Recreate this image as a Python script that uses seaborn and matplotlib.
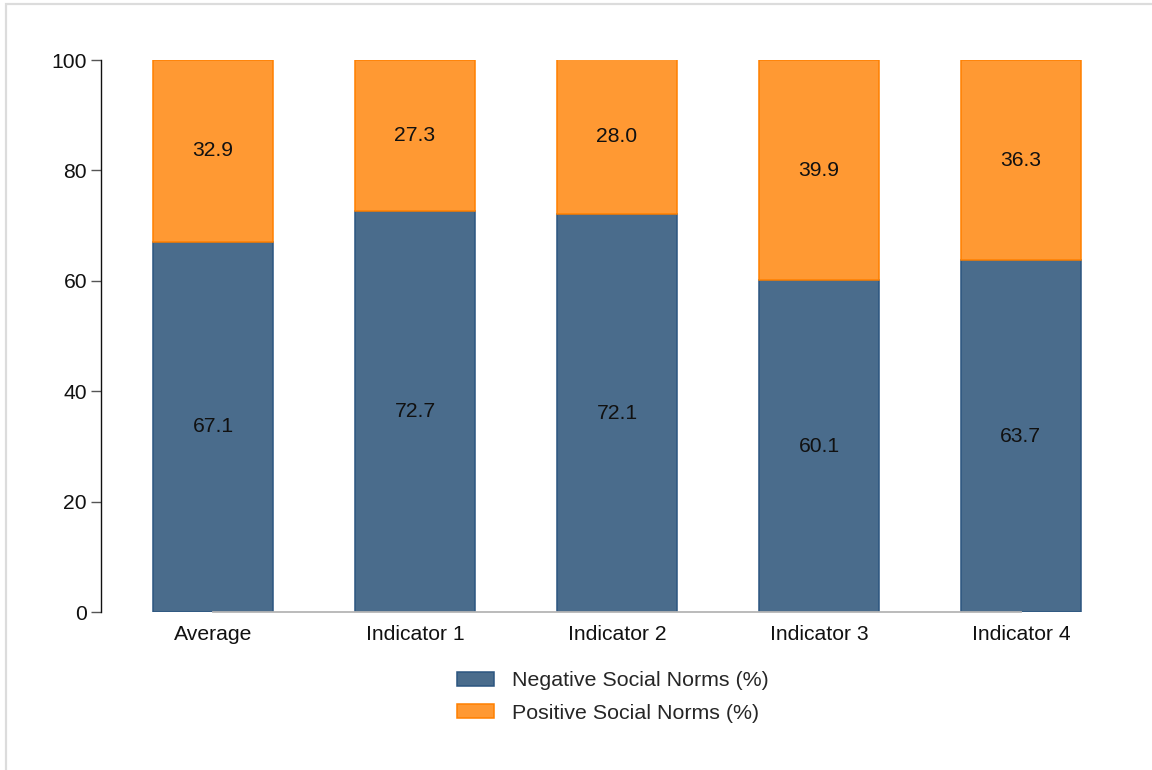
import matplotlib
matplotlib.use("Agg")
import matplotlib.pyplot as plt
from matplotlib.patches import Rectangle, Patch
import pandas as pd
import seaborn as sns

categories = ["Average", "Indicator 1", "Indicator 2", "Indicator 3", "Indicator 4"]
negative = [67.1, 72.7, 72.1, 60.1, 63.7]
positive = [32.9, 27.3, 28.0, 39.9, 36.3]
series_labels = ["Negative Social Norms (%)", "Positive Social Norms (%)"]
y_ticks = [0, 20, 40, 60, 80, 100]

neg_color, neg_edge = "#4a6c8c", "#2b5580"
pos_color, pos_edge = "#ff9933", "#ff8000"

sns.set_theme(style="white")
plt.rcParams["font.family"] = ["Liberation Sans", "DejaVu Sans"]

df = pd.DataFrame({"category": categories, "negative": negative, "positive": positive})

fig = plt.figure(figsize=(11.52, 7.70), dpi=100)
ax = fig.add_axes([101 / 1152, 1 - 612 / 770, (1133 - 101) / 1152, (612 - 60) / 770])

bar_w = 0.595
sns.barplot(data=df, x="category", y="negative", color=neg_color, width=bar_w,
            edgecolor=neg_edge, linewidth=1.1, saturation=1, ax=ax, zorder=1)
sns.barplot(data=df, x="category", y="positive", color=pos_color, width=bar_w,
            bottom=df["negative"], edgecolor=pos_edge, linewidth=1.1, saturation=1,
            ax=ax, zorder=1)

# value labels centred in each segment
for i, (n, p) in enumerate(zip(negative, positive)):
    ax.text(i, n / 2, f"{n:.1f}", ha="center", va="center", fontsize=15.2, color="#111111")
    ax.text(i, n + p / 2, f"{p:.1f}", ha="center", va="center", fontsize=15.2, color="#111111")

ax.set_xlim(-0.555, len(categories) - 1 + 0.555)
ax.set_ylim(0, 100)
ax.set_yticks(y_ticks)
ax.set_xlabel("")
ax.set_ylabel("")

for side in ("top", "right"):
    ax.spines[side].set_visible(False)
ax.spines["left"].set_color("#111111")
ax.spines["left"].set_linewidth(1.0)
ax.spines["bottom"].set_color("#b5b5b5")
ax.spines["bottom"].set_linewidth(1.3)
ax.spines["bottom"].set_bounds(0, len(categories) - 1)
ax.spines["bottom"].set_zorder(3)

ax.tick_params(axis="y", which="major", left=True, length=7, width=1.0, color="#555555",
               pad=3, labelsize=15.2, labelcolor="#111111")
ax.tick_params(axis="x", length=0, pad=9, labelsize=15.2, labelcolor="#111111")

handles = [Patch(facecolor=neg_color, edgecolor=neg_edge, linewidth=1.1),
           Patch(facecolor=pos_color, edgecolor=pos_edge, linewidth=1.1)]
fig.legend(handles, series_labels, loc="center left",
           bbox_to_anchor=(457 / 1152, 1 - 697 / 770), frameon=False, fontsize=15.4,
           borderpad=0, borderaxespad=0, handlelength=1.75, handleheight=0.66,
           handletextpad=0.8, labelspacing=0.62)

# thin grey frame around the figure
fig.patches.append(Rectangle((5.5 / 1152, -0.05), 1.1, 1 - 4 / 770 + 0.05,
                             transform=fig.transFigure, fill=False,
                             edgecolor="#dcdcdc", linewidth=1.6, zorder=0))

fig.savefig("out.png", dpi=100, facecolor="white")
